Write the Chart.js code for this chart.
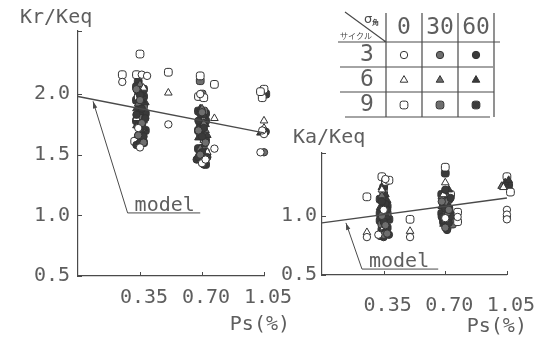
<!DOCTYPE html>
<html><head><meta charset="utf-8">
<script src="https://cdn.jsdelivr.net/npm/chart.js@4.4.1/dist/chart.umd.min.js"></script>
<style>
html,body{margin:0;padding:0;background:#fff;}
#wrap{position:relative;width:550px;height:342px;overflow:hidden;background:#fff;}
#c1{position:absolute;left:0;top:0;}
#c2{position:absolute;left:240px;top:118px;}
</style></head><body>
<div id="wrap"><canvas id="c1" width="550" height="342"></canvas><canvas id="c2" width="310" height="224"></canvas></div>
<script>
// ---- axis / legend text ----
const xTicks = [0.35, 0.70, 1.05];
const xTickLabels = ['0.35', '0.70', '1.05'];
const krTicks = [0.5, 1.0, 1.5, 2.0];
const krTickLabels = ['0.5', '1.0', '1.5', '2.0'];
const kaTicks = [0.5, 1.0];
const kaTickLabels = ['0.5', '1.0'];
const cycles = ['3', '6', '9'];          // サイクル
const sigmaAngles = ['0', '30', '60'];   // σ角

// ---- Kr/Keq points [Ps, Kr/Keq] ----
const kr_c3_s0  = [[0.25,2.10],[0.36,2.16],[0.39,2.15],[0.51,1.75],[0.34,1.72],[0.35,1.56],[0.69,2.00],[0.77,1.55],[0.70,1.43],[0.72,1.46],[1.03,1.52],[1.05,1.67],[1.04,1.70]];
const kr_c3_s30 = [[0.35,1.95],[0.36,1.76],[0.34,1.66],[0.37,1.60],[0.33,2.04],[0.70,1.85],[0.69,1.50],[0.71,1.45],[0.72,1.60],[0.68,1.70],[1.05,1.52]];
const kr_c3_s60 = [[0.34,2.02],[0.36,1.88],[0.35,1.70],[0.33,1.58],[0.38,1.80],[0.35,1.99],[0.33,1.83],[0.37,1.65],[0.35,1.60],[0.68,1.78],[0.70,1.52],[0.73,1.48],[0.70,1.65],[0.67,1.46],[0.71,1.72],[0.69,1.84],[0.68,1.48],[0.71,1.42],[1.06,1.69]];
const kr_c6_s0  = [[0.25,2.60],[0.51,2.01],[0.37,2.05],[0.33,1.80],[0.36,1.66],[0.77,1.80],[0.71,1.62],[0.73,1.52],[1.05,1.78],[1.05,1.72]];
const kr_c6_s30 = [[0.35,2.08],[0.34,1.92],[0.37,1.78],[0.35,1.62],[0.70,1.88],[0.72,1.70],[0.69,1.55],[0.71,1.76],[1.04,1.70]];
const kr_c6_s60 = [[0.36,2.00],[0.35,1.85],[0.34,1.68],[0.38,1.93],[0.33,1.74],[0.36,1.95],[0.33,1.88],[0.37,1.72],[0.71,1.82],[0.68,1.72],[0.71,1.58],[0.70,1.47],[0.73,1.66],[0.69,1.88],[0.72,1.75],[0.68,1.64],[0.72,1.52],[1.03,1.68]];
const kr_c9_s0  = [[0.35,2.33],[0.25,2.16],[0.33,2.16],[0.51,2.18],[0.34,1.98],[0.32,1.61],[0.36,1.72],[0.69,2.15],[0.77,2.08],[0.68,1.98],[0.71,1.97],[0.70,1.82],[0.72,1.52],[1.05,2.04],[1.04,1.97],[1.03,2.02]];
const kr_c9_s30 = [[0.35,2.05],[0.37,1.90],[0.34,1.82],[0.36,1.65],[0.69,2.11],[0.70,2.00],[0.71,1.86],[0.69,1.68],[0.70,1.45],[1.04,2.02]];
const kr_c9_s60 = [[0.34,2.10],[0.37,1.98],[0.35,1.87],[0.36,1.75],[0.34,1.64],[0.38,1.70],[0.33,2.06],[0.37,2.04],[0.33,1.95],[0.38,1.84],[0.33,1.78],[0.37,1.60],[0.72,1.84],[0.69,1.76],[0.71,1.64],[0.69,1.50],[0.72,1.42],[0.68,1.86],[0.72,1.78],[0.68,1.70],[0.72,1.62],[0.68,1.55],[0.72,1.48],[1.06,2.00]];
const krModel   = [[0,1.98],[1.05,1.68]];
const krPointer = [[0.085,1.94],[0.28,1.02],[0.69,1.02]];

// ---- Ka/Keq points [Ps, Ka/Keq] ----
const ka_c3_s0  = [[0.255,0.82],[0.50,0.82],[0.36,1.31],[0.32,0.84],[0.35,1.05],[0.70,0.98],[0.77,0.99],[1.05,1.05],[1.05,1.01],[1.05,0.97]];
const ka_c3_s30 = [[0.35,0.84],[0.37,0.85],[0.34,1.00],[0.36,0.92],[0.70,0.90],[0.72,1.05],[0.68,1.12],[1.05,0.99]];
const ka_c3_s60 = [[0.38,0.84],[0.33,0.83],[0.35,0.95],[0.36,1.10],[0.35,0.82],[0.34,1.12],[0.37,1.05],[0.36,0.86],[0.71,0.88],[0.69,0.96],[0.73,1.15],[0.70,1.22],[0.68,0.99],[0.72,0.94],[0.70,1.06]];
const ka_c6_s0  = [[0.255,0.86],[0.50,0.87],[0.70,1.28],[0.34,1.22],[0.69,1.18],[1.03,1.24],[0.35,0.90]];
const ka_c6_s30 = [[0.34,1.17],[0.36,1.08],[0.35,0.88],[0.68,1.16],[0.71,1.02],[1.02,1.25]];
const ka_c6_s60 = [[0.34,1.24],[0.37,1.13],[0.35,0.98],[0.36,1.18],[0.33,1.07],[0.37,0.99],[0.70,1.20],[0.72,1.08],[0.69,0.93],[0.72,1.22],[0.68,1.08],[0.73,1.04],[1.04,1.28],[1.06,1.30]];
const ka_c9_s0  = [[0.255,1.16],[0.50,0.97],[0.34,1.33],[0.36,1.29],[0.38,1.30],[0.35,1.19],[0.70,1.41],[0.77,1.03],[0.77,0.95],[0.73,1.18],[1.05,1.33],[1.07,1.20],[1.09,1.19]];
const ka_c9_s30 = [[0.35,1.15],[0.37,1.02],[0.34,0.93],[0.71,1.12],[0.70,1.00],[0.74,0.93]];
const ka_c9_s60 = [[0.36,1.04],[0.33,0.96],[0.35,1.24],[0.33,1.14],[0.37,1.08],[0.33,1.02],[0.38,0.97],[0.34,0.88],[0.37,0.90],[0.70,1.36],[0.72,1.06],[0.68,1.02],[0.68,1.18],[0.72,1.14],[0.69,1.10],[0.73,1.00],[0.69,0.95],[0.71,0.90],[1.06,1.26]];
const kaModel   = [[0,0.94],[1.05,1.15]];
const kaPointer = [[0.136,0.94],[0.227,0.55],[0.66,0.55]];

const krList = [kr_c3_s0,kr_c3_s30,kr_c3_s60,kr_c6_s0,kr_c6_s30,kr_c6_s60,kr_c9_s0,kr_c9_s30,kr_c9_s60];
const kaList = [ka_c3_s0,ka_c3_s30,ka_c3_s60,ka_c6_s0,ka_c6_s30,ka_c6_s60,ka_c9_s0,ka_c9_s30,ka_c9_s60];

// ---- styles ----
const INK = '#4a4a4a';
const TXT = '#5e5e5e';
const FONT = "'DejaVu Sans Mono', monospace";
const shapeFor = {'3':'circle','6':'triangle','9':'rectRounded'};
const radiusFor = {'3':3.7,'6':4.4,'9':4.5};
const fillFor = {'0':'#ffffff','30':'#6e6e6e','60':'#3a3a3a'};

Chart.defaults.font.family = FONT;
Chart.defaults.color = TXT;

const xy = a => a.map(([x,y]) => ({x, y}));

function makeSets(list){
  const out = []; let k = 0;
  cycles.forEach(c => sigmaAngles.forEach(s => {
    out.push({
      label: 'サイクル' + c + ' σ角' + s,
      data: xy(list[k++]),
      pointStyle: shapeFor[c], pointRadius: radiusFor[c],
      backgroundColor: fillFor[s], borderColor: '#333', borderWidth: 1,
      clip: false, order: 2, _cycle: c, _sigma: s
    });
  }));
  return out;
}
function lineSet(arr, w){
  return {type:'line', data: xy(arr), borderColor: INK, borderWidth: w, pointRadius: 0,
          fill: false, tension: 0, clip: false, order: 0, showLine: true};
}

// inward ticks, axis titles, "model" label, arrowheads
const decor = {
  id: 'decor',
  afterDraw(chart, args, o){
    const {ctx} = chart; const xs = chart.scales.x, ys = chart.scales.y;
    ctx.save();
    ctx.strokeStyle = INK; ctx.lineWidth = 1;
    ctx.beginPath();
    [...ys.ticks.map(t => t.value), ys.max].forEach(v => {
      const py = Math.round(ys.getPixelForValue(v)) + 0.5;
      ctx.moveTo(xs.left, py); ctx.lineTo(xs.left + 4, py);
    });
    xs.ticks.forEach(t => {
      const px = Math.round(xs.getPixelForValue(t.value)) + 0.5;
      ctx.moveTo(px, ys.bottom); ctx.lineTo(px, ys.bottom - 4);
    });
    ctx.stroke();
    ctx.fillStyle = TXT; ctx.font = '20px ' + FONT;
    // y title (when not drawn by the title plugin)
    if (o.yTitle) {
      ctx.textAlign = 'left'; ctx.textBaseline = 'middle';
      ctx.fillText(o.yTitle, xs.left + o.yTitleDx, ys.top + o.yTitleDy);
    }
    // x title
    ctx.textAlign = 'right'; ctx.textBaseline = 'middle';
    ctx.fillText(o.xTitle, xs.right + o.xTitleDx, ys.bottom + o.xTitleDy);
    // model label on pointer
    const p = o.pointer;
    const bx = xs.getPixelForValue(p[1][0]), by = ys.getPixelForValue(p[1][1]);
    ctx.textAlign = 'left'; ctx.textBaseline = 'alphabetic';
    ctx.fillText(o.label, bx + 7, by - 2);
    // arrowhead at pointer start
    ctx.fillStyle = INK;
    const sx = xs.getPixelForValue(p[0][0]), sy = ys.getPixelForValue(p[0][1]);
    let dx = sx - bx, dy = sy - by; const L = Math.hypot(dx, dy); dx /= L; dy /= L;
    ctx.beginPath();
    ctx.moveTo(sx, sy);
    ctx.lineTo(sx - dx*7 - dy*2.2, sy - dy*7 + dx*2.2);
    ctx.lineTo(sx - dx*7 + dy*2.2, sy - dy*7 - dx*2.2);
    ctx.closePath(); ctx.fill();
    if (o.table) drawTable(chart);
    ctx.restore();
  }
};

function drawTable(chart){
  const ctx = chart.ctx;
  ctx.save();
  ctx.strokeStyle = INK; ctx.lineWidth = 1.2;
  ctx.beginPath();
  [[338,500,42],[340,493,67],[340,494,92],[345,490,117]].forEach(([a,b,y]) => { ctx.moveTo(a,y); ctx.lineTo(b,y); });
  [386,422,458,494].forEach(x => { ctx.moveTo(x,13); ctx.lineTo(x,117); });
  ctx.moveTo(345,12); ctx.lineTo(386,42);
  ctx.stroke();
  ctx.fillStyle = TXT;
  ctx.textAlign = 'center'; ctx.textBaseline = 'middle';
  ctx.font = '23px ' + FONT;
  const colX = [404,440,476], rowY = [55,80,105];
  sigmaAngles.forEach((s,i) => ctx.fillText(s, colX[i], 28));
  cycles.forEach((c,j) => ctx.fillText(c, 367, rowY[j]));
  ctx.fillStyle = INK;
  ctx.font = "13px 'DejaVu Sans'"; ctx.textAlign = 'left';
  ctx.fillText('σ', 364, 20);
  ctx.font = "bold 7px 'Noto Sans CJK JP'";
  ctx.fillText('角', 372, 22);
  ctx.font = "8px 'Noto Sans CJK JP'";
  ctx.fillText('サイクル', 340, 36);
  // symbols from the datasets' own styles
  chart.data.datasets.filter(d => d._cycle).forEach(d => {
    const i = sigmaAngles.indexOf(d._sigma), j = cycles.indexOf(d._cycle);
    ctx.fillStyle = d.backgroundColor; ctx.strokeStyle = d.borderColor; ctx.lineWidth = d.borderWidth;
    Chart.helpers.drawPoint(ctx, {pointStyle: d.pointStyle, radius: d.pointRadius, rotation: 0, borderWidth: d.borderWidth}, colX[i], rowY[j]);
  });
  ctx.restore();
}

function axisOpts(min, max, ticks, labels, width, pad){
  return {
    type: 'linear', min, max,
    afterBuildTicks: s => { s.ticks = ticks.map(v => ({value: v})); },
    afterFit: s => { s.width = width; },
    grid: {display: false, drawTicks: false},
    border: {display: true, color: INK, width: 1.2},
    ticks: {callback: (v, i) => labels[i], padding: pad, font: {size: 20}, color: TXT}
  };
}
function xOpts(height, pad){
  return {
    type: 'linear', min: 0, max: 1.05,
    afterBuildTicks: s => { s.ticks = xTicks.map(v => ({value: v})); },
    afterFit: s => { s.height = height; },
    grid: {display: false, drawTicks: false},
    border: {display: true, color: INK, width: 1.2},
    ticks: {callback: (v, i) => xTickLabels[i], padding: pad, font: {size: 20}, color: TXT,
            autoSkip: false, maxRotation: 0, labelOffset: 4}
  };
}

new Chart(document.getElementById('c1'), {
  type: 'scatter',
  data: {datasets: [...makeSets(krList), lineSet(krModel, 1.3), lineSet(krPointer, 1)]},
  options: {
    responsive: false, animation: false, events: [],
    layout: {padding: {left: 20, top: 6, right: 286, bottom: 0}},
    scales: {x: xOpts(66, 10), y: axisOpts(0.5, 2.52, krTicks, krTickLabels, 58, 8)},
    plugins: {
      legend: {display: false}, tooltip: {enabled: false},
      title: {display: true, text: 'Kr/Keq', align: 'start', color: TXT,
              font: {size: 20, weight: 'normal'}, padding: {top: 0, bottom: 1}},
      decor: {xTitle: 'Ps(%)', xTitleDx: 26, xTitleDy: 49, label: 'model', pointer: krPointer, table: true}
    }
  },
  plugins: [decor]
});

new Chart(document.getElementById('c2'), {
  type: 'scatter',
  data: {datasets: [...makeSets(kaList), lineSet(kaModel, 1.3), lineSet(kaPointer, 1)]},
  options: {
    responsive: false, animation: false, events: [],
    layout: {padding: {left: 30, top: 35, right: 43, bottom: 0}},
    scales: {x: xOpts(67, 19), y: axisOpts(0.5, 1.53, kaTicks, kaTickLabels, 52, 5)},
    plugins: {
      legend: {display: false}, tooltip: {enabled: false}, title: {display: false},
      decor: {yTitle: 'Ka/Keq', yTitleDx: -29, yTitleDy: -15,
              xTitle: 'Ps(%)', xTitleDx: 20, xTitleDy: 52, label: 'model', pointer: kaPointer, table: false}
    }
  },
  plugins: [decor]
});
</script>
</body></html>
